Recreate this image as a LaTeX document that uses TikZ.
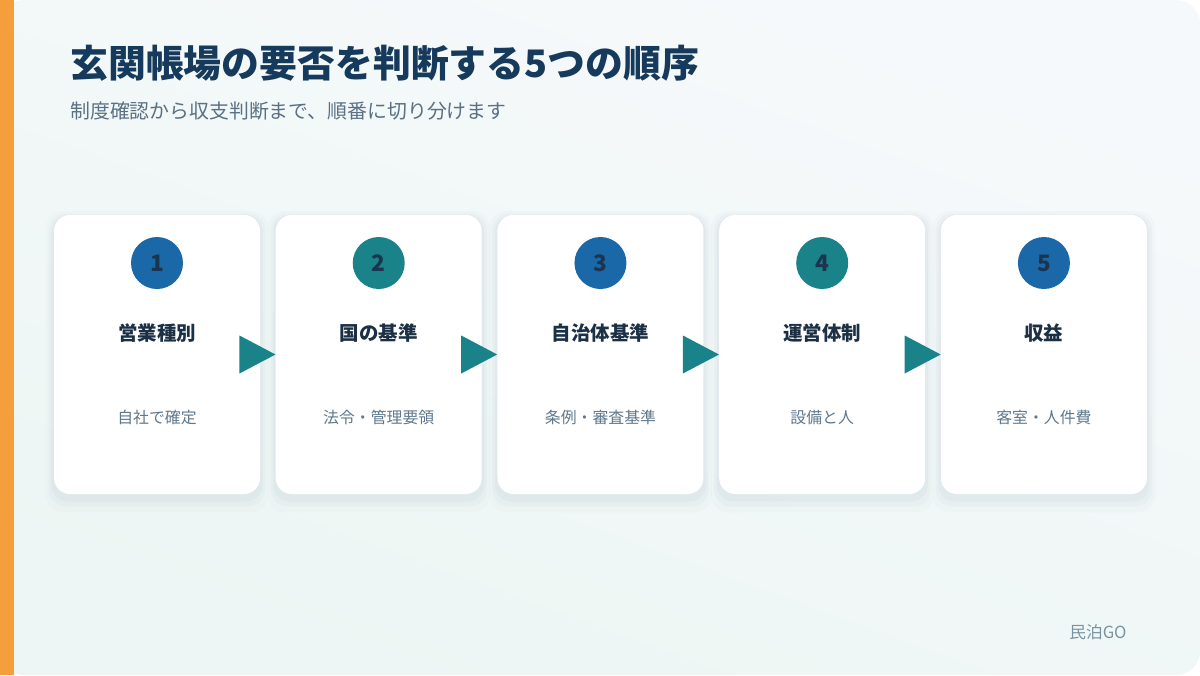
\documentclass[tikz,border=0pt]{standalone}
\usepackage{fontspec}
\setmainfont{Noto Sans CJK JP}
\usepackage{xcolor}
\usetikzlibrary{positioning, shadows}

\definecolor{barorange}{HTML}{F59E3C}
\definecolor{paneltop}{HTML}{F6F9FB}
\definecolor{panelbot}{HTML}{EDF6F4}
\definecolor{titleblue}{HTML}{163A5C}
\definecolor{subgray}{HTML}{5B7083}
\definecolor{headdark}{HTML}{1B2F45}
\definecolor{bodygray}{HTML}{5F788C}
\definecolor{stepblue}{HTML}{1A68A8}
\definecolor{stepteal}{HTML}{1A8289}
\definecolor{numdark}{HTML}{1B3550}
\definecolor{footgray}{HTML}{7A93A3}
\definecolor{shadowcol}{HTML}{5A7890}

\begin{document}
\begin{tikzpicture}[
    x=1pt, y=1pt,
    card/.style={rectangle, fill=white, rounded corners=12pt, minimum width=154.5pt, minimum height=209.25pt,
        drop shadow={color=shadowcol, opacity=0.025, shadow xshift=0pt, shadow yshift=-5pt, shadow scale=1.08},
        drop shadow={color=shadowcol, opacity=0.035, shadow xshift=0pt, shadow yshift=-4pt, shadow scale=1.05},
        drop shadow={color=shadowcol, opacity=0.045, shadow xshift=0pt, shadow yshift=-3pt, shadow scale=1.025}},
    stepnum/.style={circle, minimum size=39pt, inner sep=0pt, text=numdark, font=\fontsize{17}{17}\selectfont\bfseries},
    cardhead/.style={text=headdark, font=\fontsize{14.6}{16}\selectfont\bfseries},
    cardbody/.style={text=bodygray, font=\fontsize{11.9}{14}\selectfont},
    arrowfill/.style={fill=stepteal}
]
    % Background
    \useasboundingbox (0,0) rectangle (900,-506.25);
    \fill[white] (0,0) rectangle (900,-506.25);
    \shade[top color=paneltop, bottom color=panelbot, shading angle=-20, rounded corners=18pt]
        (0,0) rectangle (900,-506.25);
    \fill[barorange] (0,0) rectangle (10.5,-506.25);

    % Title
    \node (title) [anchor=west, text=titleblue, font=\fontsize{28.4}{32}\selectfont\bfseries, inner sep=0pt]
        at (52.5,-47.5) {玄関帳場の要否を判断する5つの順序};
    \node (subtitle) [anchor=west, text=subgray, font=\fontsize{14.9}{17}\selectfont, inner sep=0pt]
        at (52.5,-83.25) {制度確認から収支判断まで、順番に切り分けます};

    % Cards
    \node (card1) [card] at (117.75,-265.875) {};
    \node (card2) [card, right=11.4pt of card1] {};
    \node (card3) [card, right=11.4pt of card2] {};
    \node (card4) [card, right=11.4pt of card3] {};
    \node (card5) [card, right=11.4pt of card4] {};

    % Step numbers
    \node (num1) [stepnum, fill=stepblue, below=16.5pt of card1.north] {1};
    \node (num2) [stepnum, fill=stepteal, below=16.5pt of card2.north] {2};
    \node (num3) [stepnum, fill=stepblue, below=16.5pt of card3.north] {3};
    \node (num4) [stepnum, fill=stepteal, below=16.5pt of card4.north] {4};
    \node (num5) [stepnum, fill=stepblue, below=16.5pt of card5.north] {5};

    % Card headings
    \node (head1) [cardhead] at ([yshift=-88.5pt]card1.north) {営業種別};
    \node (head2) [cardhead] at ([yshift=-88.5pt]card2.north) {国の基準};
    \node (head3) [cardhead] at ([yshift=-88.5pt]card3.north) {自治体基準};
    \node (head4) [cardhead] at ([yshift=-88.5pt]card4.north) {運営体制};
    \node (head5) [cardhead] at ([yshift=-88.5pt]card5.north) {収益};

    % Card texts
    \node (body1) [cardbody] at ([yshift=-152.25pt]card1.north) {自社で確定};
    \node (body2) [cardbody] at ([yshift=-152.25pt]card2.north) {法令・管理要領};
    \node (body3) [cardbody] at ([yshift=-152.25pt]card3.north) {条例・審査基準};
    \node (body4) [cardbody] at ([yshift=-152.25pt]card4.north) {設備と人};
    \node (body5) [cardbody] at ([yshift=-152.25pt]card5.north) {客室・人件費};

    % Arrows
    \fill[arrowfill] (card2.west) -- ++(-27pt,14.25pt) -- ++(0,-28.5pt) -- cycle;
    \fill[arrowfill] (card3.west) -- ++(-27pt,14.25pt) -- ++(0,-28.5pt) -- cycle;
    \fill[arrowfill] (card4.west) -- ++(-27pt,14.25pt) -- ++(0,-28.5pt) -- cycle;
    \fill[arrowfill] (card5.west) -- ++(-27pt,14.25pt) -- ++(0,-28.5pt) -- cycle;

    % Footer
    \node (brand) [text=footgray, font=\fontsize{12.5}{14}\selectfont] at (823.5,-474) {民泊GO};

\end{tikzpicture}
\end{document}
